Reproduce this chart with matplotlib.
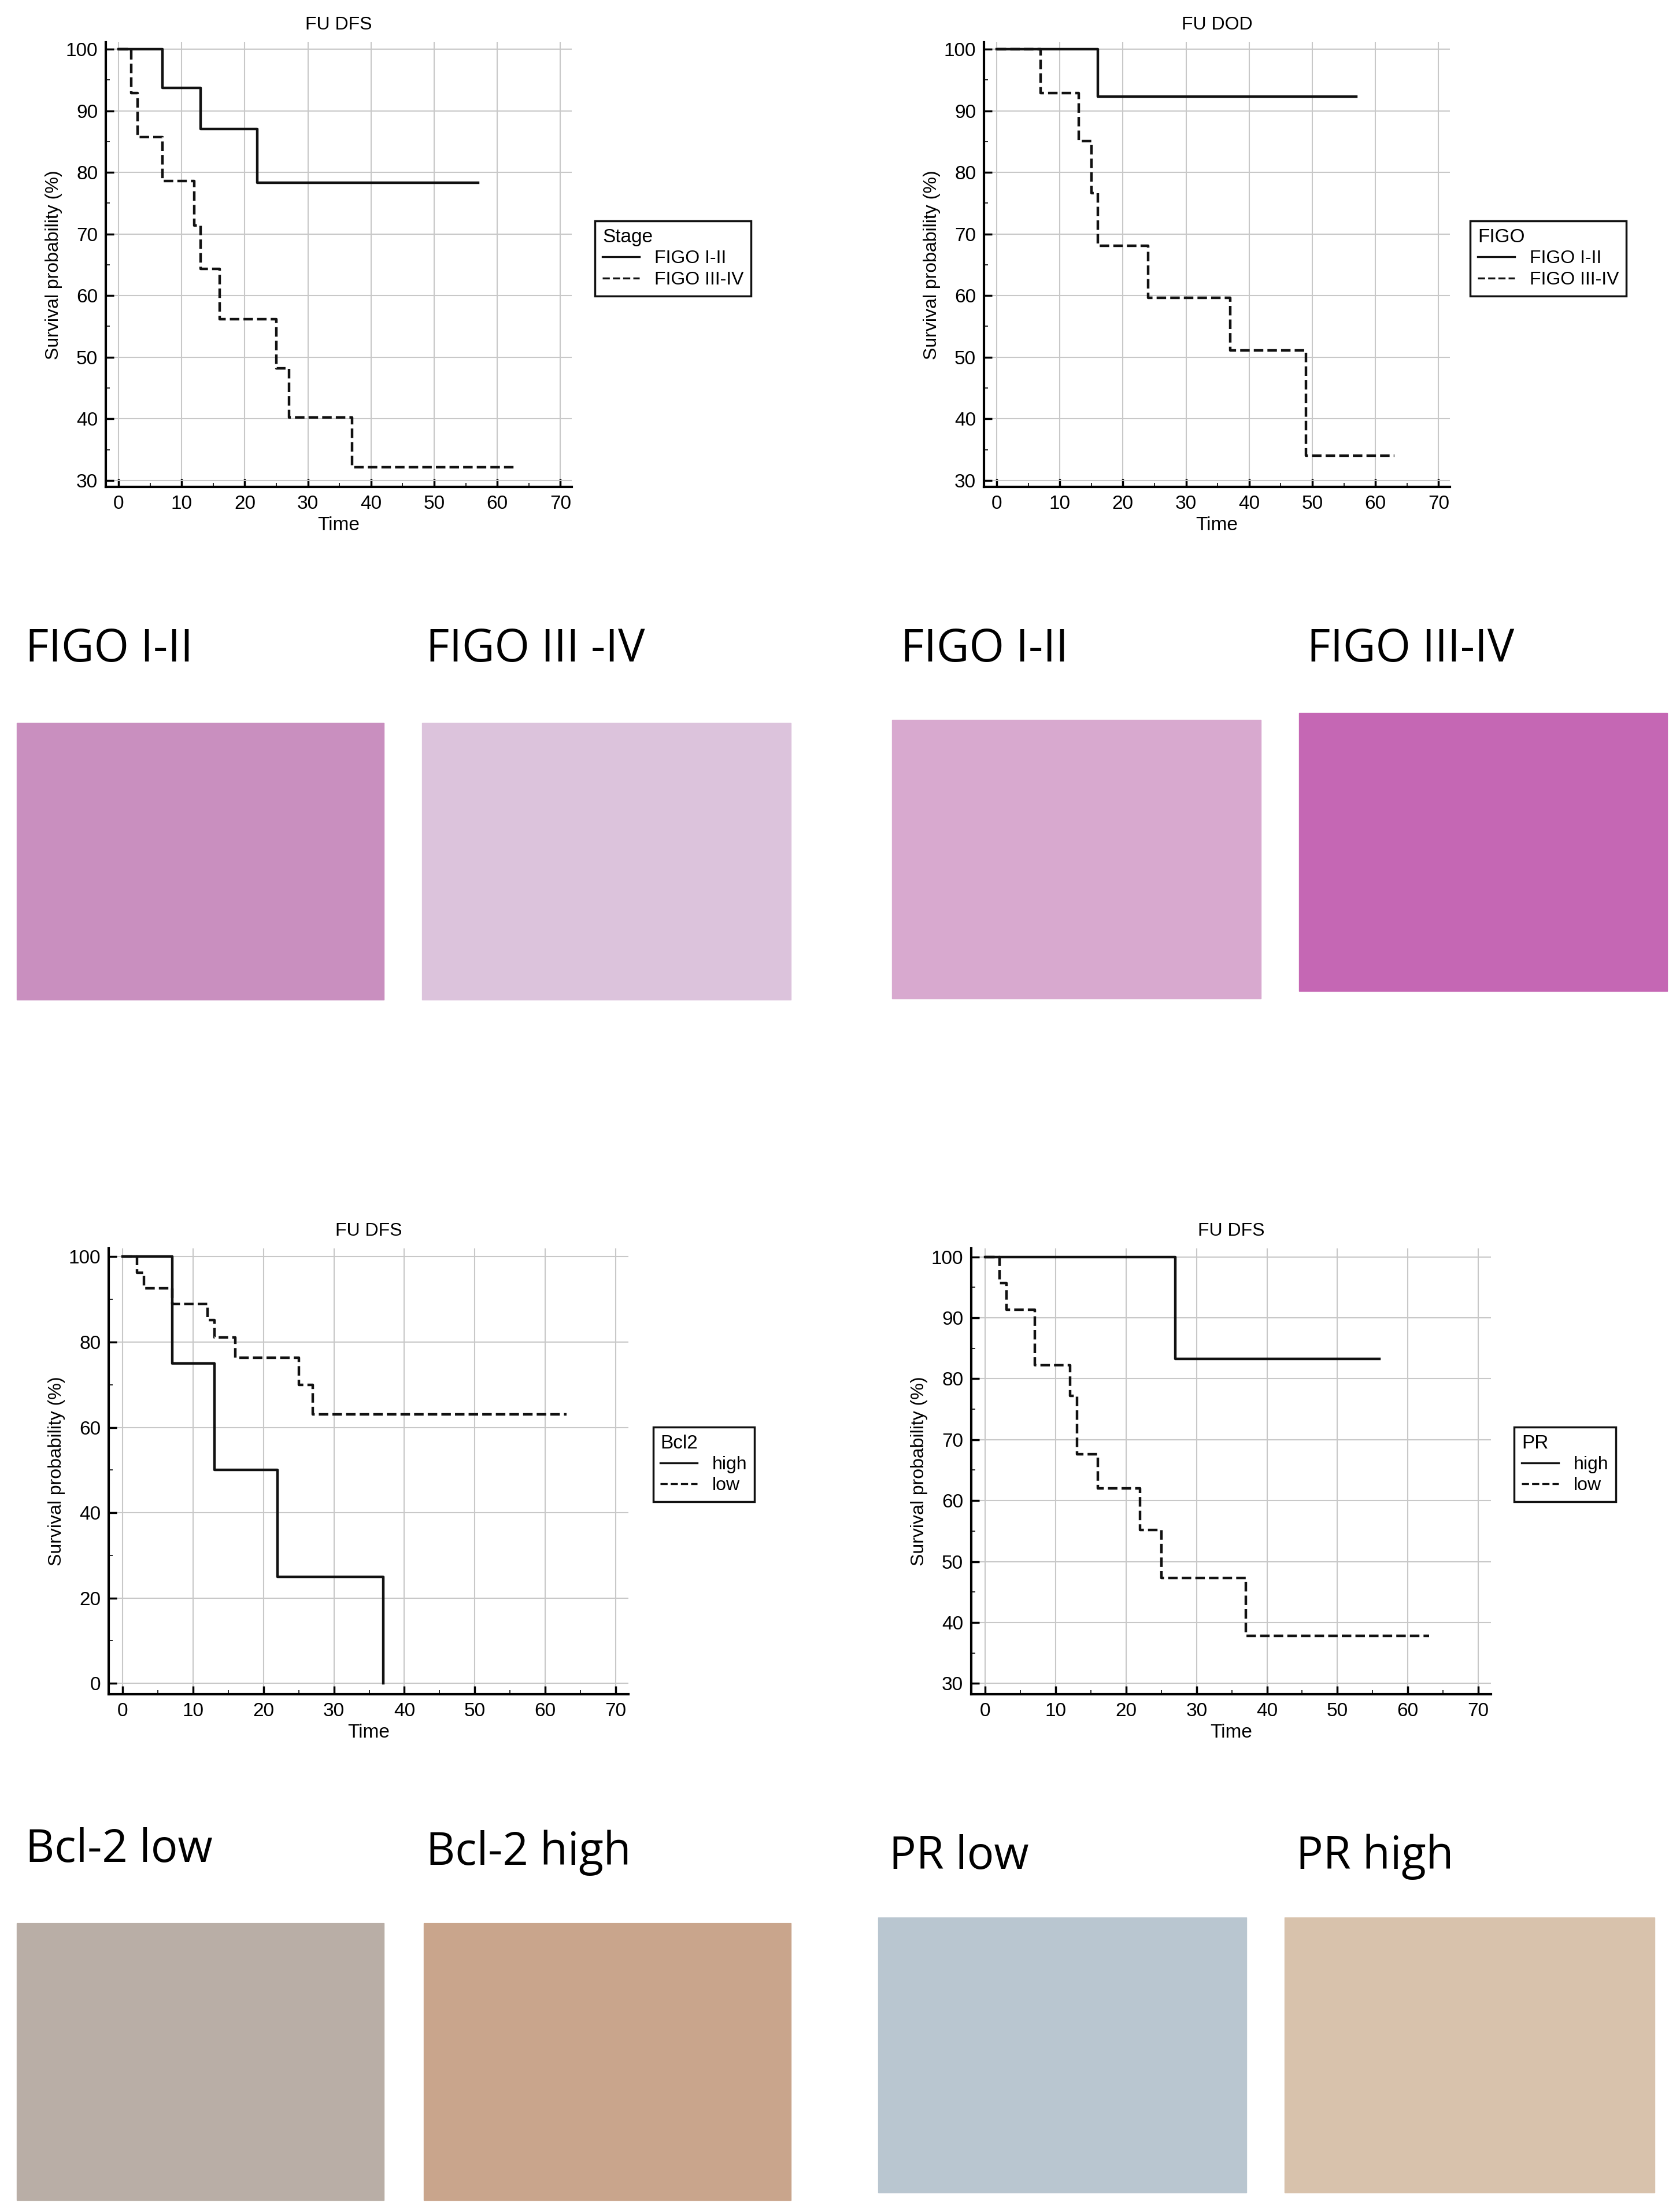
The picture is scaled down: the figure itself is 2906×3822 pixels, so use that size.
import matplotlib
matplotlib.use("Agg")
import matplotlib.pyplot as plt
from matplotlib.patches import Rectangle
from matplotlib.lines import Line2D

W, H = 2906, 3822
S = W / 1190.0  # reference layout was measured on a 1190 px wide view

# Kaplan-Meier step data
dfs_figo12_t = [0, 7, 13, 22, 57]
dfs_figo12_s = [100, 93.75, 87.0, 78.3, 78.3]
dfs_figo34_t = [0, 2, 3, 7, 12, 13, 16, 25, 27, 37, 63]
dfs_figo34_s = [100, 92.9, 85.7, 78.6, 71.4, 64.3, 56.2, 48.2, 40.2, 32.1, 32.1]

dod_figo12_t = [0, 16, 57]
dod_figo12_s = [100, 92.3, 92.3]
dod_figo34_t = [0, 7, 13, 15, 16, 24, 37, 49, 63]
dod_figo34_s = [100, 92.9, 85.1, 76.6, 68.1, 59.6, 51.1, 34.0, 34.0]

bcl2_high_t = [0, 7, 13, 22, 37]
bcl2_high_s = [100, 75, 50, 25, 0]
bcl2_low_t = [0, 2, 3, 7, 12, 13, 16, 25, 27, 63]
bcl2_low_s = [100, 96.3, 92.6, 88.9, 85.2, 81.1, 76.3, 70.0, 63.0, 63.0]

pr_high_t = [0, 27, 56]
pr_high_s = [100, 83.3, 83.3]
pr_low_t = [0, 2, 3, 7, 12, 13, 16, 22, 25, 37, 63]
pr_low_s = [100, 95.7, 91.3, 82.2, 77.2, 67.6, 62.0, 55.2, 47.3, 37.8, 37.8]

panel_labels = ["FIGO I-II", "FIGO III -IV", "FIGO I-II", "FIGO III-IV",
                "Bcl-2 low", "Bcl-2 high", "PR low", "PR high"]

fig = plt.figure(figsize=(W / 100, H / 100), dpi=100)
plt.rcParams["font.family"] = ["Liberation Sans", "DejaVu Sans"]


def box(x0, y0, x1, y1):
    # displayed px box -> figure fraction
    return [x0 * S / W, 1 - y1 * S / H, (x1 - x0) * S / W, (y1 - y0) * S / H]


def km_axes(rect, ylim, yticks, title, tseries, legend_title, names, leg_xy):
    ax = fig.add_axes(rect)
    for (t, s), ls in zip(tseries, ["-", "--"]):
        ax.step(t, s, where="post", color="#111111", lw=3.2, ls=ls)
    ax.set_xlim(-2, 71.8)
    ax.set_ylim(*ylim)
    ax.set_xticks(range(0, 71, 10))
    ax.set_xticks(range(0, 71, 5), minor=True)
    ax.set_yticks(yticks)
    ax.set_yticks(range(yticks[0], yticks[-1] + 1, (yticks[1] - yticks[0]) // 2), minor=True)
    ax.grid(True, color="#c8c8c8", lw=1.5)
    for sp in ["top", "right"]:
        ax.spines[sp].set_visible(False)
    for sp in ["left", "bottom"]:
        ax.spines[sp].set_linewidth(3)
    ax.tick_params(labelsize=24, width=2.5, length=10, direction="in", pad=10)
    ax.tick_params(which="minor", width=1.2, length=5, direction="in")
    ax.set_xlabel("Time", fontsize=24)
    ax.set_ylabel("Survival probability (%)", fontsize=23)
    ax.set_title(title, fontsize=23, pad=16)
    handles = [Line2D([], [], color="#111111", lw=2.4, ls=ls) for ls in ["-", "--"]]
    leg = ax.legend(handles, names, title=legend_title, loc="upper left",
                    bbox_to_anchor=(leg_xy[0] * S / W, 1 - leg_xy[1] * S / H),
                    bbox_transform=fig.transFigure, fontsize=23, title_fontsize=24,
                    fancybox=False, edgecolor="#111111", framealpha=1,
                    alignment="left", handlelength=2.0, borderpad=0.4,
                    labelspacing=0.2)
    leg.get_frame().set_linewidth(2.5)
    return ax


km_axes(box(75, 30, 405, 345), (28.9, 101.1), list(range(30, 101, 10)), "FU DFS",
        [(dfs_figo12_t, dfs_figo12_s), (dfs_figo34_t, dfs_figo34_s)],
        "Stage", ["FIGO I-II", "FIGO III-IV"], (415, 150))
km_axes(box(697, 30, 1027, 345), (28.9, 101.1), list(range(30, 101, 10)), "FU DOD",
        [(dod_figo12_t, dod_figo12_s), (dod_figo34_t, dod_figo34_s)],
        "FIGO", ["FIGO I-II", "FIGO III-IV"], (1035, 150))
km_axes(box(77, 884, 445, 1200), (-2.6, 102.0), list(range(0, 101, 20)), "FU DFS",
        [(bcl2_high_t, bcl2_high_s), (bcl2_low_t, bcl2_low_s)],
        "Bcl2", ["high", "low"], (456, 1004))
km_axes(box(688, 884, 1056, 1200), (28.2, 101.4), list(range(30, 101, 10)), "FU DFS",
        [(pr_high_t, pr_high_s), (pr_low_t, pr_low_s)],
        "PR", ["high", "low"], (1066, 1004))

# micrograph panels (placeholders in the tissue colours)
img_boxes = [(12, 512, 272, 708), (299, 512, 560, 708), (632, 510, 893, 707), (920, 505, 1181, 702),
             (12, 1362, 272, 1558), (300, 1362, 560, 1558), (622, 1358, 883, 1553), (910, 1358, 1172, 1553)]
img_colors = ["#c98fbf", "#dcc3dc", "#d8a9cf", "#c567b4",
              "#b9aea6", "#c9a58c", "#b9c6d0", "#d8c2ac"]
label_pos = [(18, 460), (302, 460), (638, 460), (926, 460),
             (18, 1310), (302, 1312), (630, 1315), (918, 1315)]
for (x0, y0, x1, y1), c in zip(img_boxes, img_colors):
    fig.patches.append(Rectangle((x0 * S / W, 1 - y1 * S / H), (x1 - x0) * S / W, (y1 - y0) * S / H,
                                 transform=fig.transFigure, color=c, zorder=0))
for (x, y), txt in zip(label_pos, panel_labels):
    fig.text(x * S / W, 1 - y * S / H, txt, fontsize=56, va="center", ha="left",
             family=["Open Sans", "DejaVu Sans"])

fig.savefig("out.png", dpi=100)
